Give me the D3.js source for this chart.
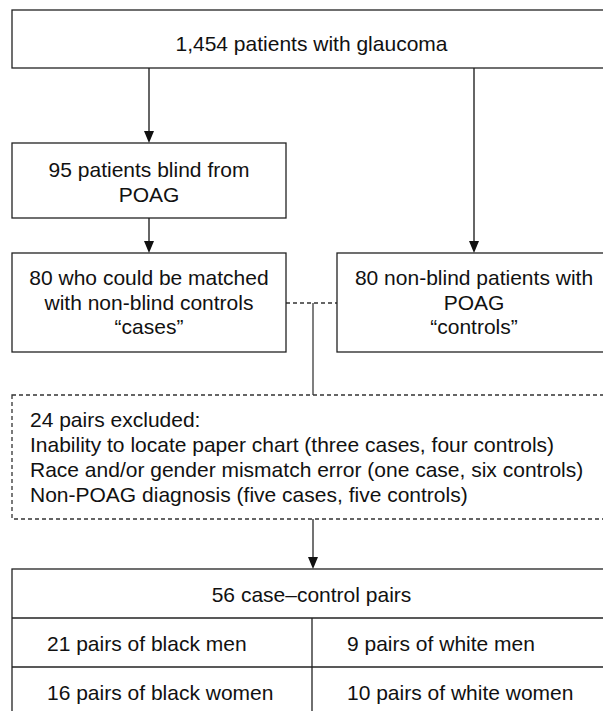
<!DOCTYPE html>
<html>
<head>
<meta charset="utf-8">
<script src="https://cdn.jsdelivr.net/npm/d3@7"></script>
<style>
  html, body { margin: 0; padding: 0; background: #fff; }
  svg { display: block; }
</style>
</head>
<body>
<script>
// ---- data ----
const topLabel = ["1,454 patients with glaucoma"];
const blindLabel = ["95 patients blind from", "POAG"];
const casesLabel = ["80 who could be matched", "with non-blind controls", "\u201Ccases\u201D"];
const controlsLabel = ["80 non-blind patients with", "POAG", "\u201Ccontrols\u201D"];
const excludedLabel = [
  "24 pairs excluded:",
  "Inability to locate paper chart (three cases, four controls)",
  "Race and/or gender mismatch error (one case, six controls)",
  "Non-POAG diagnosis (five cases, five controls)"
];
const tableHeader = ["56 case\u2013control pairs"];
const tableRows = [
  ["21 pairs of black men", "9 pairs of white men"],
  ["16 pairs of black women", "10 pairs of white women"]
];

// ---- layout ----
const W = 603, H = 711;
const svg = d3.select("body").append("svg").attr("width", W).attr("height", H);
const x = d3.scaleLinear().domain([0, 1]).range([12, 611]);
const FONT = "'Liberation Sans', Arial, Helvetica, sans-serif";
const FS = 21;
const stroke = "#222";

svg.append("defs").append("marker")
  .attr("id", "arr").attr("viewBox", "0 0 10 12")
  .attr("refX", 5).attr("refY", 12)
  .attr("markerWidth", 10).attr("markerHeight", 12)
  .attr("markerUnits", "userSpaceOnUse")
  .attr("orient", "auto-start-reverse")
  .append("path").attr("d", "M0,0 L10,0 L5,12 Z").attr("fill", "#111");

function box(x0, y0, x1, y1, dashed) {
  svg.append("rect").attr("x", x0).attr("y", y0)
    .attr("width", x1 - x0).attr("height", y1 - y0)
    .attr("fill", "#fff").attr("stroke", dashed ? "#333" : stroke)
    .attr("stroke-width", 1.3)
    .attr("stroke-dasharray", dashed ? "4,3" : null);
}
function lines(arr, cx, baselines, anchor) {
  svg.append("g").selectAll("text").data(arr).join("text")
    .attr("x", cx).attr("y", (d, i) => baselines[i])
    .attr("text-anchor", anchor || "middle")
    .attr("font-family", FONT).attr("font-size", FS).attr("fill", "#111")
    .text(d => d);
}
function vline(xx, y0, y1, arrow, color) {
  svg.append("line").attr("x1", xx).attr("x2", xx).attr("y1", y0).attr("y2", arrow ? y1 - 11 : y1)
    .attr("stroke", color || "#333").attr("stroke-width", 1.5);
  if (arrow) {
    svg.append("path")
      .attr("d", `M${xx - 5},${y1 - 12} L${xx + 5},${y1 - 12} L${xx},${y1} Z`)
      .attr("fill", "#111");
  }
}

const xL0 = x(0), xL1 = 286, xR0 = 337, xR1 = x(1);
const cL = (xL0 + xL1) / 2, cR = (xR0 + xR1) / 2, cM = (x(0) + x(1)) / 2;
const cMid = 313;

// connectors
vline(cL, 68, 143, true);
vline(cR, 68, 253, true);
vline(cL, 218, 253, true);
svg.append("line").attr("x1", xL1).attr("x2", xR0).attr("y1", 303).attr("y2", 303)
  .attr("stroke", "#333").attr("stroke-width", 1.3).attr("stroke-dasharray", "4,3");
vline(cMid, 303, 395, false, "#555");
vline(cMid, 519, 569, true, "#444");

// top box
box(x(0), 10, x(1), 68);
lines(topLabel, cM, [51]);

// blind box
box(xL0, 143, xL1, 218);
lines(blindLabel, cL, [177, 202]);

// cases box
box(xL0, 253, xL1, 352);
lines(casesLabel, cL, [285, 310, 334]);

// controls box
box(xR0, 253, xR1, 352);
lines(controlsLabel, cR, [285, 310, 334]);

// excluded box
box(x(0), 395, x(1), 519, true);
lines(excludedLabel, 30, [427, 452, 477, 502], "start");

// table
const rowH = 49, tTop = 569, colX = 312;
box(x(0), tTop, x(1), tTop + rowH * 3);
svg.append("g").selectAll("line.h").data([1, 2]).join("line")
  .attr("x1", x(0)).attr("x2", x(1))
  .attr("y1", d => tTop + d * rowH).attr("y2", d => tTop + d * rowH)
  .attr("stroke", stroke).attr("stroke-width", 1.3);
svg.append("line").attr("x1", colX).attr("x2", colX)
  .attr("y1", tTop + rowH).attr("y2", tTop + rowH * 3)
  .attr("stroke", stroke).attr("stroke-width", 1.3);
lines(tableHeader, cM, [602]);
tableRows.forEach((row, r) => {
  const base = tTop + rowH * (r + 1) + 33;
  lines([row[0]], 47, [base], "start");
  lines([row[1]], 347, [base], "start");
});
</script>
</body>
</html>
